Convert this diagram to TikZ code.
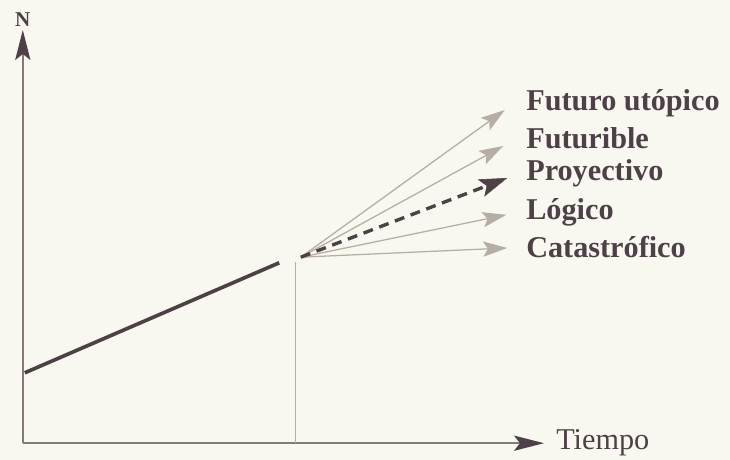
\documentclass[tikz,border=0pt]{standalone}
\usepackage{fontspec}
\setmainfont{Liberation Serif}
\usetikzlibrary{arrows.meta,positioning}

\definecolor{paper}{HTML}{F8F7F0}
\definecolor{ink}{HTML}{4E4047}
\definecolor{axisc}{HTML}{86787A}
\definecolor{fanc}{HTML}{B6AEA2}

\tikzset{
  lbl/.style={anchor=west,inner sep=0pt,text=ink,font=\bfseries\fontsize{21.5}{21.5}\selectfont},
  axisline/.style={draw=axisc,line width=1.1pt,-{Stealth[length=0.75cm,width=0.38cm,inset=0.15cm,color=ink,fill=ink]}},
  fanarrow/.style={draw=fanc,line width=0.9pt,-{Stealth[length=0.6cm,width=0.38cm,inset=0.12cm,color=fanc,fill=fanc]}}
}

\begin{document}
\begin{tikzpicture}[>=Stealth]
  \fill[paper] (0,0) rectangle (18.25,11.5);
  \useasboundingbox (0,0) rectangle (18.25,11.5);
  % axes
  \coordinate (O) at (0.57,0.42);
  \coordinate (ytop) at (0.57,10.75);
  \coordinate (xend) at (13.6,0.42);
  \draw[axisline] (O) -- (ytop);
  \draw[axisline] (O) -- (xend);
  \node[inner sep=0pt,text=ink,font=\bfseries\fontsize{15}{15}\selectfont] (N) at (0.57,11.0) {N};
  \node[lbl,font=\fontsize{21.5}{21.5}\selectfont,right=0.3cm of xend] (tiempo) {Tiempo};
  % past trend and present
  \coordinate (past) at (0.62,2.18);
  \coordinate (now) at (6.98,4.93);
  \coordinate (fan) at (7.52,5.07);
  \coordinate (foot) at (7.38,0.42);
  \draw[draw=ink,line width=2.6pt] (past) -- (now);
  \draw[draw=fanc,line width=0.6pt] (foot) -- (7.38,4.95);
  % futures
  \coordinate (t1) at (12.62,8.75);
  \coordinate (t2) at (12.58,7.85);
  \coordinate (t3) at (12.68,7.05);
  \coordinate (t4) at (12.66,6.13);
  \coordinate (t5) at (12.68,5.3);
  \node[lbl] (utopico) at (13.15,8.93) {Futuro utópico};
  \node[lbl] (futurible) at (13.15,8.05) {Futurible};
  \node[lbl] (proyectivo) at (13.15,7.18) {Proyectivo};
  \node[lbl] (logico) at (13.15,6.2) {Lógico};
  \node[lbl] (catastrofico) at (13.15,5.33) {Catastrófico};
  \foreach \t in {t1,t2,t4,t5} {
    \draw[fanarrow] (fan) -- (\t);
  }
  \draw[draw=ink,line width=2.4pt,dash pattern=on 0.25cm off 0.17cm,
    -{Stealth[length=0.7cm,width=0.46cm,inset=0.15cm,color=ink,fill=ink,line width=0.4pt]}] (fan) -- (t3);
\end{tikzpicture}
\end{document}
